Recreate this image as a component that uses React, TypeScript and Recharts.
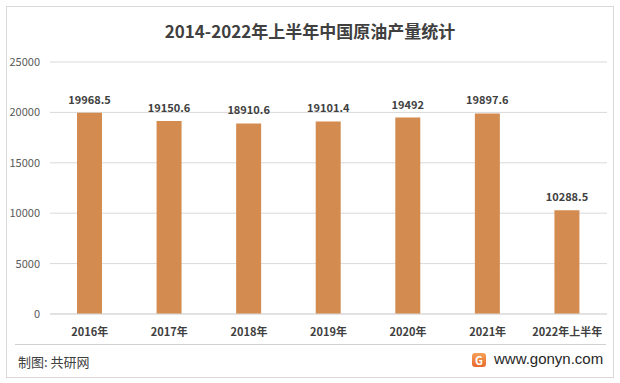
import { BarChart, Bar, XAxis, YAxis, CartesianGrid, LabelList } from "recharts";

const years = ["2016年", "2017年", "2018年", "2019年", "2020年", "2021年", "2022年上半年"];
const output = [19968.5, 19150.6, 18910.6, 19101.4, 19492, 19897.6, 10288.5];
const yTicks = [0, 5000, 10000, 15000, 20000, 25000];

const font = '"Noto Sans CJK SC", "Noto Sans", sans-serif';

const App = () => {
  const data = years.map((name, i) => ({ name, value: output[i] }));

  return (
    <div
      style={{
        position: "fixed",
        left: 0,
        top: 0,
        width: 620,
        height: 383,
        background: "#fff",
        fontFamily: font,
      }}
    >
      {/* outer frame */}
      <div
        style={{
          position: "absolute",
          left: 6,
          top: 6,
          width: 606,
          height: 370,
          border: "1px solid #d9d9d9",
        }}
      />
      <div
        style={{
          position: "absolute",
          top: 18,
          left: 0,
          width: 620,
          textAlign: "center",
          fontSize: 17,
          fontWeight: "bold",
          color: "#404040",
        }}
      >
        2014-2022年上半年中国原油产量统计
      </div>

      <div style={{ position: "absolute", left: 0, top: 0 }}>
        <BarChart
          width={620}
          height={383}
          data={data}
          margin={{ top: 62, right: 13, bottom: 39, left: 0 }}
        >
          <CartesianGrid vertical={false} stroke="#d9d9d9" />
          <XAxis
            dataKey="name"
            height={30}
            tick={{ fill: "#404040", fontSize: 11, fontWeight: "bold" }}
            axisLine={{ stroke: "#d9d9d9" }}
            tickLine={false}
            tickMargin={8}
            interval={0}
          />
          <YAxis
            width={50}
            domain={[0, 25000]}
            ticks={yTicks}
            tick={{ fill: "#595959", fontSize: 11 }}
            axisLine={false}
            tickLine={false}
            tickMargin={4}
          />
          <Bar dataKey="value" fill="#d38b4f" barSize={25} isAnimationActive={false}>
            <LabelList
              dataKey="value"
              position="top"
              offset={9}
              style={{ fill: "#404040", fontSize: 11, fontWeight: "bold" }}
            />
          </Bar>
        </BarChart>
      </div>

      {/* footer */}
      <div
        style={{
          position: "absolute",
          left: 15,
          top: 344,
          width: 591,
          height: 0,
          borderTop: "1px solid #d0d0d0",
        }}
      />
      <div
        style={{
          position: "absolute",
          left: 18,
          top: 352,
          fontSize: 13,
          color: "#404040",
        }}
      >
        制图: 共研网
      </div>
      <div
        style={{
          position: "absolute",
          left: 472,
          top: 353,
          width: 14,
          height: 14,
          borderRadius: 3,
          background: "linear-gradient(180deg, #f5a05a, #e86a2c)",
          color: "#fff",
          fontSize: 11,
          fontWeight: "bold",
          textAlign: "center",
          lineHeight: "14px",
        }}
      >
        G
      </div>
      <div
        style={{
          position: "absolute",
          left: 494,
          top: 350,
          fontSize: 15,
          color: "#262626",
          fontFamily: '"Liberation Sans", sans-serif',
        }}
      >
        www.gonyn.com
      </div>
    </div>
  );
};

export default App;
